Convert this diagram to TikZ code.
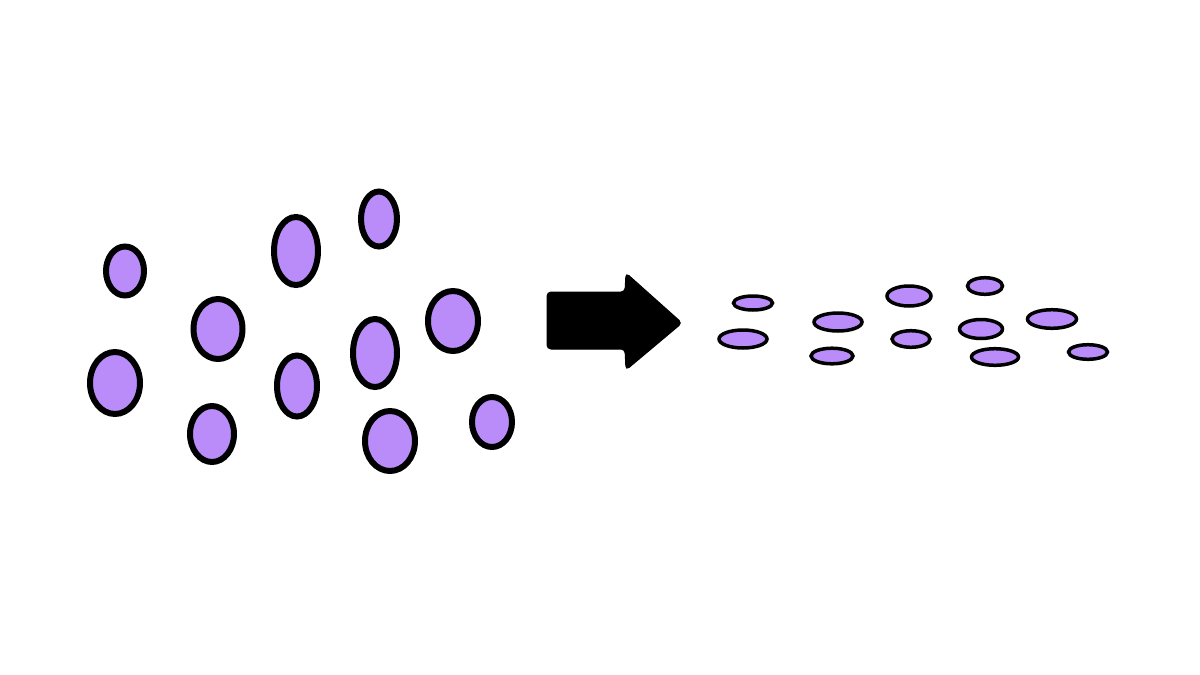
\documentclass[tikz,border=0pt]{standalone}
\definecolor{lav}{RGB}{185,140,250}
\begin{document}
\begin{tikzpicture}[x=1pt,y=-1pt,
  big/.style={draw=black,fill=lav,line width=6pt},
  small/.style={draw=black,fill=lav,line width=3.5pt},
  arrowshape/.style={fill=black,draw=black,line width=1pt,rounded corners=4pt}]
\useasboundingbox[fill=white] (0,0) rectangle (1200,675);
% left blobs (outer radii minus half line width)
\draw[big] (125,271) ellipse [x radius=19, y radius=24.5];
\draw[big] (296,251) ellipse [x radius=22, y radius=34];
\draw[big] (379,219) ellipse [x radius=18, y radius=27.5];
\draw[big] (218,329) ellipse [x radius=24.5, y radius=30];
\draw[big] (453,321) ellipse [x radius=25, y radius=30];
\draw[big] (375,353) ellipse [x radius=22, y radius=34];
\draw[big] (115,383) ellipse [x radius=25, y radius=31];
\draw[big] (297,386) ellipse [x radius=20, y radius=30.5];
\draw[big] (212,434) ellipse [x radius=22, y radius=28];
\draw[big] (390,441) ellipse [x radius=25, y radius=30];
\draw[big] (492,422) ellipse [x radius=20, y radius=25];
% arrow
\filldraw[arrowshape] (547,292) -- (625,292) -- (626,273) -- (682,323) -- (626,370) -- (625,349) -- (547,349) -- cycle;
% right flattened blobs
\draw[small] (753,303) ellipse [x radius=19.5, y radius=7];
\draw[small] (743,339) ellipse [x radius=24, y radius=9];
\draw[small] (838,322) ellipse [x radius=24, y radius=9];
\draw[small] (832,356) ellipse [x radius=21, y radius=7.8];
\draw[small] (909,296) ellipse [x radius=22, y radius=10];
\draw[small] (985,286) ellipse [x radius=17.5, y radius=8.3];
\draw[small] (911,339) ellipse [x radius=19, y radius=8.3];
\draw[small] (981,329) ellipse [x radius=21.5, y radius=9.5];
\draw[small] (1052,319) ellipse [x radius=24.5, y radius=9.3];
\draw[small] (995,357) ellipse [x radius=23.5, y radius=8.3];
\draw[small] (1088,352) ellipse [x radius=19.5, y radius=7.3];
\end{tikzpicture}
\end{document}
